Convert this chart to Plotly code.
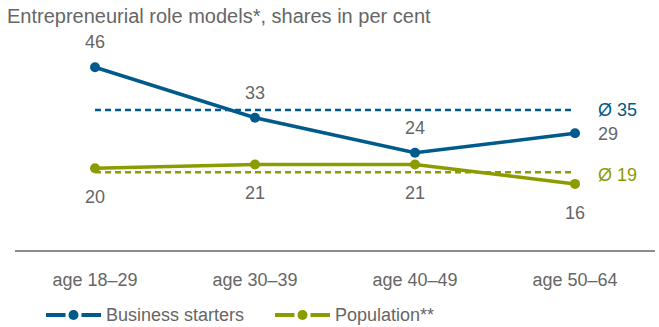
import plotly.graph_objects as go

# Age groups and shares (per cent)
age_groups = ["age 18–29", "age 30–39", "age 40–49", "age 50–64"]
business_starters = [46, 33, 24, 29]
population = [20, 21, 21, 16]
avg_business = 35
avg_population = 19
series_names = ["Business starters", "Population**"]

BLUE = "#005A8C"
GREEN = "#8C9C00"
GREY = "#666666"
FONT = "Liberation Sans, Arial, sans-serif"

W, H = 659, 327
M_L, M_R, M_T, M_B = 15, 4, 40, 77
PLOT_W = W - M_L - M_R
PLOT_H = H - M_T - M_B


def px_x(x):
    return (x - M_L) / PLOT_W


def px_y(y):
    return (H - M_B - y) / PLOT_H


fig = go.Figure()

# Average reference lines
for avg, col in [(avg_business, BLUE), (avg_population, GREEN)]:
    fig.add_trace(go.Scatter(x=age_groups, y=[avg] * len(age_groups), mode="lines",
                             line=dict(color=col, width=2.4, dash="6px,4px"),
                             showlegend=False, hoverinfo="skip"))

# Main series
for name, vals, col in [(series_names[0], business_starters, BLUE),
                        (series_names[1], population, GREEN)]:
    fig.add_trace(go.Scatter(x=age_groups, y=vals, mode="lines+markers", name=name,
                             line=dict(color=col, width=3.5),
                             marker=dict(color=col, size=10), showlegend=False))

label_font = dict(size=18, color=GREY, family=FONT)
annotations = []
# Value labels for business starters: above, last one to the right
for i, (cat, v) in enumerate(zip(age_groups, business_starters)):
    if i == len(age_groups) - 1:
        annotations.append(dict(x=cat, y=v, text=str(v), showarrow=False,
                                xanchor="left", xshift=21, yshift=-1, font=label_font))
    else:
        annotations.append(dict(x=cat, y=v, text=str(v), showarrow=False,
                                yshift=25, font=label_font))
# Value labels for population: below
for cat, v in zip(age_groups, population):
    annotations.append(dict(x=cat, y=v, text=str(v), showarrow=False,
                            yshift=-29, font=label_font))
# Average labels
annotations.append(dict(x=age_groups[-1], y=avg_business, text=f"Ø {avg_business}",
                        showarrow=False, xanchor="left", xshift=21,
                        font=dict(size=18, color=BLUE, family=FONT)))
annotations.append(dict(x=age_groups[-1], y=avg_population, text=f"Ø {avg_population}",
                        showarrow=False, xanchor="left", xshift=21, yshift=-3,
                        font=dict(size=18, color=GREEN, family=FONT)))

# Legend drawn with shapes: line, dot, line, then the series name
shapes = []
legend_y = 315
legend_items = [(series_names[0], BLUE, 46), (series_names[1], GREEN, 275)]
for name, col, x0 in legend_items:
    x1 = x0 + 55
    xc = (x0 + x1) / 2
    for a, b in [(x0, xc - 8), (xc + 8, x1)]:
        shapes.append(dict(type="line", xref="paper", yref="paper",
                           x0=px_x(a), x1=px_x(b), y0=px_y(legend_y), y1=px_y(legend_y),
                           line=dict(color=col, width=4), layer="above"))
    r = 5
    shapes.append(dict(type="circle", xref="paper", yref="paper",
                       x0=px_x(xc - r), x1=px_x(xc + r),
                       y0=px_y(legend_y + r), y1=px_y(legend_y - r),
                       fillcolor=col, line=dict(color=col, width=0), layer="above"))
    annotations.append(dict(x=px_x(x1 + 3), y=px_y(legend_y), xref="paper", yref="paper",
                            text=name, showarrow=False, xanchor="left", yanchor="middle",
                            font=dict(size=18, color=GREY, family=FONT)))

fig.update_layout(
    width=W, height=H,
    margin=dict(l=M_L, r=M_R, t=M_T, b=M_B),
    paper_bgcolor="white", plot_bgcolor="white",
    font=dict(family=FONT, color=GREY),
    title=dict(text="Entrepreneurial role models*, shares in per cent",
               x=0, xref="container", xanchor="left", y=0.952, yanchor="middle",
               pad=dict(l=7), font=dict(size=20, color=GREY, family=FONT)),
    xaxis=dict(range=[-0.5, 3.5], showgrid=False, zeroline=False,
               showline=True, linecolor="#8C8C8C", linewidth=2,
               ticks="", ticklabelstandoff=12,
               tickfont=dict(size=18, color=GREY, family=FONT),
               fixedrange=True),
    yaxis=dict(range=[-1, 53], visible=False, fixedrange=True),
    annotations=annotations,
    shapes=shapes,
    showlegend=False,
)

fig.write_html("out.html")
